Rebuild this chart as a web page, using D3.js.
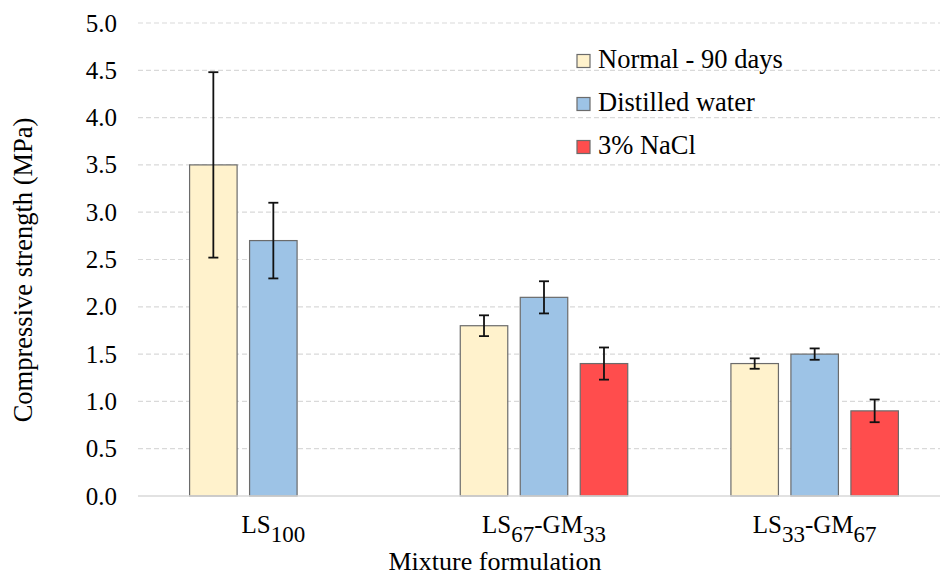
<!DOCTYPE html>
<html>
<head>
<meta charset="utf-8">
<script src="https://cdn.jsdelivr.net/npm/d3@7"></script>
<style>
  html, body { margin: 0; padding: 0; background: #fff; }
  #chart { width: 940px; height: 577px; overflow: hidden; }
</style>
</head>
<body>
<div id="chart"></div>
<script>
// categories: alternating [main, subscript, main, subscript]
const categories = [
  ["LS", "100"],
  ["LS", "67", "-GM", "33"],
  ["LS", "33", "-GM", "67"]
];
const categoryKeys = ["LS100", "LS67-GM33", "LS33-GM67"];
const seriesNames = ["Normal - 90 days", "Distilled water", "3% NaCl"];
const normalValues = [3.5, 1.8, 1.4];
const normalErrors = [0.98, 0.11, 0.055];
const distilledValues = [2.7, 2.1, 1.5];
const distilledErrors = [0.4, 0.17, 0.06];
const naclValues = [null, 1.4, 0.9];
const naclErrors = [null, 0.17, 0.12];
const yTicks = [0, 0.5, 1, 1.5, 2, 2.5, 3, 3.5, 4, 4.5, 5];

const colors = ["#FFF2CC", "#9DC3E6", "#FF4D4D"];
const font = "'Liberation Serif', 'Times New Roman', serif";

const seriesValues = [normalValues, distilledValues, naclValues];
const seriesErrors = [normalErrors, distilledErrors, naclErrors];

const bars = [];
categoryKeys.forEach((c, i) => {
  seriesNames.forEach((s, j) => {
    if (seriesValues[j][i] != null) {
      bars.push({ cat: c, series: s, value: seriesValues[j][i], err: seriesErrors[j][i], color: colors[j] });
    }
  });
});

const width = 940, height = 577;
const plot = { left: 138, right: 950, top: 23, bottom: 496 };

const svg = d3.select("#chart").append("svg")
  .attr("width", width)
  .attr("height", height)
  .attr("font-family", font);

const x0 = d3.scaleBand().domain(categoryKeys).range([plot.left, plot.right]);
const x1 = d3.scaleBand().domain(seriesNames).range([0, x0.bandwidth()])
  .paddingInner(0.208).paddingOuter(0.86);
const y = d3.scaleLinear().domain([0, 5]).range([plot.bottom, plot.top]);

// gridlines
svg.append("g")
  .selectAll("line")
  .data(yTicks.filter(d => d > 0))
  .join("line")
  .attr("x1", plot.left).attr("x2", plot.right)
  .attr("y1", d => y(d)).attr("y2", d => y(d))
  .attr("stroke", "#d9d9d9")
  .attr("stroke-width", 1.2)
  .attr("stroke-dasharray", "5 3");

// y axis labels
const yAxis = d3.axisLeft(y).tickValues(yTicks).tickFormat(d3.format(".1f")).tickSize(0).tickPadding(21);
const yG = svg.append("g").attr("transform", `translate(${plot.left},0)`).call(yAxis);
yG.attr("font-family", font);
yG.select(".domain").remove();
yG.selectAll("text")
  .attr("font-size", "25px")
  .attr("font-family", font)
  .attr("fill", "#000");

// bars
svg.append("g")
  .selectAll("rect")
  .data(bars)
  .join("rect")
  .attr("x", d => x0(d.cat) + x1(d.series))
  .attr("y", d => y(d.value))
  .attr("width", x1.bandwidth())
  .attr("height", d => y(0) - y(d.value))
  .attr("fill", d => d.color)
  .attr("stroke", "#6b6b6b")
  .attr("stroke-width", 1.2);

// baseline
svg.append("line")
  .attr("x1", plot.left).attr("x2", plot.right)
  .attr("y1", y(0)).attr("y2", y(0))
  .attr("stroke", "#d9d9d9")
  .attr("stroke-width", 1.5);

// error bars
const eb = svg.append("g")
  .selectAll("g")
  .data(bars)
  .join("g")
  .attr("stroke", "#111")
  .attr("stroke-width", 1.8);
eb.append("line")
  .attr("x1", d => x0(d.cat) + x1(d.series) + x1.bandwidth() / 2)
  .attr("x2", d => x0(d.cat) + x1(d.series) + x1.bandwidth() / 2)
  .attr("y1", d => y(d.value + d.err))
  .attr("y2", d => y(d.value - d.err));
[1, -1].forEach(sign => {
  eb.append("line")
    .attr("x1", d => x0(d.cat) + x1(d.series) + x1.bandwidth() / 2 - 5)
    .attr("x2", d => x0(d.cat) + x1(d.series) + x1.bandwidth() / 2 + 5)
    .attr("y1", d => y(d.value + sign * d.err))
    .attr("y2", d => y(d.value + sign * d.err));
});

// category labels with subscripts
categoryKeys.forEach((c, i) => {
  const t = svg.append("text")
    .attr("x", x0(c) + x0.bandwidth() / 2)
    .attr("y", 533)
    .attr("text-anchor", "middle")
    .attr("font-family", font)
    .attr("font-size", "25px")
    .attr("fill", "#000");
  categories[i].forEach((part, k) => {
    const sub = k % 2 === 1;
    t.append("tspan")
      .attr("dy", sub ? 8.5 : (k === 0 ? 0 : -8.5))
      .attr("font-size", sub ? "23px" : "25px")
      .text(part);
  });
});

// axis titles
svg.append("text")
  .attr("x", 495)
  .attr("y", 570)
  .attr("text-anchor", "middle")
  .attr("font-family", font)
  .attr("font-size", "26px")
  .attr("fill", "#000")
  .text("Mixture formulation");

svg.append("text")
  .attr("transform", "rotate(-90)")
  .attr("x", -270)
  .attr("y", 32)
  .attr("text-anchor", "middle")
  .attr("font-family", font)
  .attr("font-size", "26.5px")
  .attr("fill", "#000")
  .text("Compressive strength (MPa)");

// legend
const legend = svg.append("g").attr("transform", "translate(577,67.5)");
seriesNames.forEach((s, j) => {
  const row = legend.append("g").attr("transform", `translate(0,${j * 43})`);
  row.append("rect")
    .attr("x", 0).attr("y", -13)
    .attr("width", 13).attr("height", 13)
    .attr("fill", colors[j])
    .attr("stroke", "#6b6b6b")
    .attr("stroke-width", 1.2);
  row.append("text")
    .attr("x", 21)
    .attr("y", 0)
    .attr("font-family", font)
    .attr("font-size", "26.5px")
    .attr("fill", "#000")
    .text(s);
});
</script>
</body>
</html>
